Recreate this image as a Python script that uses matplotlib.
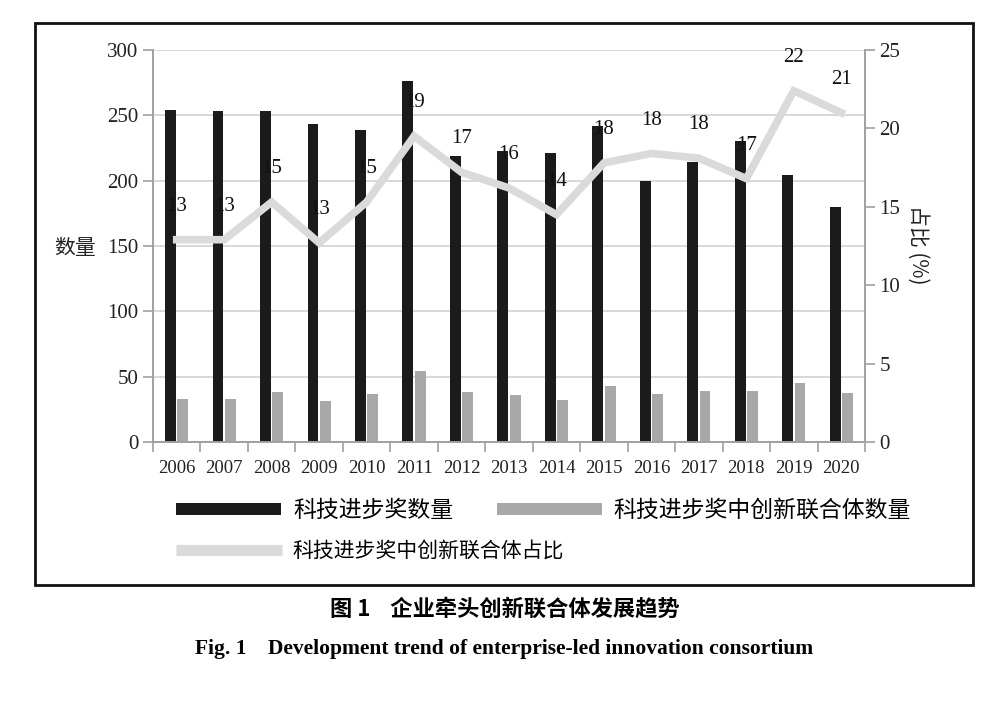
import numpy as np
import matplotlib
matplotlib.use("Agg")
import matplotlib.pyplot as plt
from matplotlib.patches import Patch, Rectangle
from matplotlib.lines import Line2D

years = ["2006", "2007", "2008", "2009", "2010", "2011", "2012", "2013",
         "2014", "2015", "2016", "2017", "2018", "2019", "2020"]
award_count = [254, 253, 253, 243, 239, 276, 219, 223, 221, 242, 200, 214, 230, 204, 180]
consortium_count = [33, 33, 38.5, 31, 37, 54, 38, 36, 32, 42.5, 37, 39, 39, 45.5, 37.5]
consortium_share = [12.9, 12.9, 15.3, 12.7, 15.3, 19.5, 17.2, 16.2, 14.5, 17.8, 18.4,
                    18.1, 16.8, 22.4, 21.0]
share_labels = ["13", "13", "15", "13", "15", "19", "17", "16", "14", "18", "18",
                "18", "17", "22", "21"]

serif = ["Liberation Serif", "DejaVu Serif"]
cjk = ["Noto Sans CJK SC", "DejaVu Sans"]
plt.rcParams["font.family"] = serif

c_black = "#1b1b1b"
c_gray = "#a8a8a8"
c_light = "#dadada"
c_axis = "#a0a0a0"

fig = plt.figure(figsize=(10, 7.02), dpi=100)
ax = fig.add_axes([0.153, 0.3704, 0.712, 0.5584])
ax2 = ax.twinx()

x = np.arange(len(years))
w = 0.23
ax.bar(x - 0.13, award_count, w, color=c_black, zorder=2)
ax.bar(x + 0.13, consortium_count, w, color=c_gray, zorder=2)

ax.set_xlim(-0.5, len(years) - 0.5)
ax.set_ylim(0, 300)
ax.set_yticks(np.arange(0, 301, 50))
ax.yaxis.grid(True, color="#d2d2d2", linewidth=1.2, zorder=0)
ax.set_axisbelow(True)

ax.set_xticks(x)
ax.set_xticklabels(years, fontsize=13.5, color="#222222")
ax.set_xticks(np.arange(-0.5, len(years), 1), minor=True)
ax.tick_params(axis="x", which="major", length=0, pad=13)
ax.tick_params(axis="x", which="minor", length=7, color=c_axis, width=1.2, direction="out")
ax.tick_params(axis="y", labelsize=15, length=7, color=c_axis, width=1.2, labelcolor="#222222")

ax2.plot(x, consortium_share, color=c_light, linewidth=5.5, solid_joinstyle="miter", zorder=3)
ax2.set_ylim(0, 25)
ax2.set_yticks(np.arange(0, 26, 5))
ax2.tick_params(axis="y", labelsize=15, length=7, color=c_axis, width=1.2, labelcolor="#222222")
for xi, yi, lab in zip(x, consortium_share, share_labels):
    ax2.annotate(lab, (xi, yi), xytext=(0, 24), textcoords="offset points",
                 ha="center", va="center", fontsize=15, color="#111111")

for a in (ax, ax2):
    a.spines["top"].set_visible(False)
    for s in ("left", "right", "bottom"):
        a.spines[s].set_color(c_axis)
        a.spines[s].set_linewidth(1.2)

fig.text(0.075, 0.647, "数量", family=cjk, fontsize=15, ha="center", va="center", color="#222222")
fig.text(0.918, 0.651, "占比 (%)", family=cjk, fontsize=15, ha="center", va="center",
         rotation=270, color="#222222")

leg_kw = dict(frameon=False, handleheight=0.48, handletextpad=0.5, columnspacing=1.9,
              borderaxespad=0, borderpad=0)
leg1 = fig.legend([Patch(facecolor=c_black, edgecolor="none"),
                   Patch(facecolor=c_gray, edgecolor="none")],
                  ["科技进步奖数量", "科技进步奖中创新联合体数量"], ncol=2,
                  loc="upper left", bbox_to_anchor=(0.176, 0.289),
                  prop={"family": cjk, "size": 16.5}, handlelength=4.6, **leg_kw)
leg2 = fig.legend([Line2D([0], [0], color=c_light, linewidth=8, solid_capstyle="butt")],
                  ["科技进步奖中创新联合体占比"], loc="upper left",
                  bbox_to_anchor=(0.176, 0.2308),
                  prop={"family": cjk, "size": 15}, handlelength=5.1, **leg_kw)

fig.patches.append(Rectangle((0.035, 0.1667), 0.938, 0.8003, transform=fig.transFigure,
                             fill=False, edgecolor="#111111", linewidth=2))

fig.text(0.505, 0.132, "图 1    企业牵头创新联合体发展趋势", family=cjk, fontsize=16,
         fontweight="bold", ha="center", va="center")
fig.text(0.504, 0.075, "Fig. 1    Development trend of enterprise-led innovation consortium",
         family=serif, fontsize=15.5, fontweight="bold", ha="center", va="center")

fig.savefig("out.png", dpi=100)
